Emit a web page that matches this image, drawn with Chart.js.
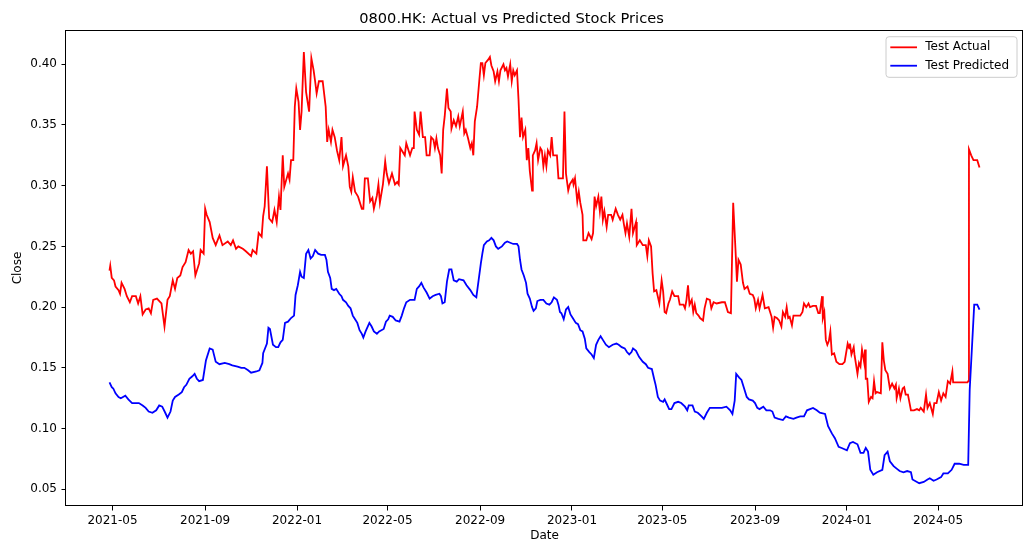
<!DOCTYPE html>
<html>
<head>
<meta charset="utf-8">
<script src="https://cdn.jsdelivr.net/npm/chart.js@4.4.1/dist/chart.umd.min.js"></script>
<style>
  html, body { margin: 0; padding: 0; background: #ffffff; }
  #wrap { width: 1024px; height: 543px; }
</style>
</head>
<body>
<div id="wrap"><canvas id="c" width="1024" height="543"></canvas></div>
<script>
const chartTitle = '0800.HK: Actual vs Predicted Stock Prices';
const xAxisTitle = 'Date';
const yAxisTitle = 'Close';
const seriesNames = ['Test Actual', 'Test Predicted'];
const xTickLabels = ['2021-05','2021-09','2022-01','2022-05','2022-09','2023-01','2023-05','2023-09','2024-01','2024-05'];
const yTicks = [0.05, 0.10, 0.15, 0.20, 0.25, 0.30, 0.35, 0.40];
const yRange = [0.0362, 0.4282];

const actualDates = [
'2021-04-27','2021-04-28','2021-04-30','2021-05-03','2021-05-05','2021-05-09','2021-05-11','2021-05-13','2021-05-17','2021-05-20',
'2021-05-24','2021-05-27','2021-06-01','2021-06-04','2021-06-07','2021-06-10','2021-06-14','2021-06-18','2021-06-21','2021-06-24',
'2021-06-29','2021-07-05','2021-07-09','2021-07-13','2021-07-16','2021-07-20','2021-07-23','2021-07-26','2021-07-30','2021-08-02',
'2021-08-06','2021-08-10','2021-08-13','2021-08-16','2021-08-19','2021-08-24','2021-08-26','2021-08-30','2021-09-01','2021-09-03',
'2021-09-07','2021-09-11','2021-09-15','2021-09-20','2021-09-24','2021-10-01','2021-10-05','2021-10-08','2021-10-12','2021-10-15',
'2021-10-21','2021-10-25','2021-11-01','2021-11-03','2021-11-08','2021-11-11','2021-11-15','2021-11-17','2021-11-19','2021-11-22',
'2021-11-25','2021-11-29','2021-12-02','2021-12-05','2021-12-08','2021-12-10','2021-12-13','2021-12-15','2021-12-20','2021-12-22',
'2021-12-24','2021-12-27','2021-12-29','2021-12-31','2022-01-03','2022-01-05','2022-01-07','2022-01-10','2022-01-13','2022-01-17',
'2022-01-20','2022-01-23','2022-01-25','2022-01-27','2022-01-30','2022-02-04','2022-02-08','2022-02-10','2022-02-12','2022-02-15',
'2022-02-17','2022-02-20','2022-02-23','2022-02-26','2022-03-01','2022-03-03','2022-03-07','2022-03-10','2022-03-12','2022-03-14',
'2022-03-16','2022-03-19','2022-03-23','2022-03-28','2022-03-30','2022-04-01','2022-04-05','2022-04-08','2022-04-11','2022-04-13',
'2022-04-17','2022-04-19','2022-04-21','2022-04-25','2022-04-28','2022-04-30','2022-05-03','2022-05-07','2022-05-11','2022-05-14',
'2022-05-16','2022-05-18','2022-05-24','2022-05-26','2022-05-31','2022-06-03','2022-06-05','2022-06-06','2022-06-09','2022-06-12',
'2022-06-14','2022-06-17','2022-06-20','2022-06-22','2022-06-26','2022-06-28','2022-07-01','2022-07-03','2022-07-05','2022-07-07',
'2022-07-10','2022-07-12','2022-07-14','2022-07-16','2022-07-19','2022-07-21','2022-07-24','2022-07-25','2022-07-28','2022-07-31',
'2022-08-03','2022-08-05','2022-08-09','2022-08-11','2022-08-13','2022-08-16','2022-08-19','2022-08-21','2022-08-23','2022-08-25',
'2022-08-28','2022-08-31','2022-09-02','2022-09-04','2022-09-06','2022-09-08','2022-09-12','2022-09-14','2022-09-16','2022-09-19',
'2022-09-21','2022-09-24','2022-09-26','2022-09-28','2022-10-02','2022-10-04','2022-10-06','2022-10-08','2022-10-11','2022-10-13',
'2022-10-15','2022-10-17','2022-10-20','2022-10-22','2022-10-24','2022-10-26','2022-10-28','2022-10-31','2022-11-02','2022-11-04',
'2022-11-06','2022-11-09','2022-11-10','2022-11-13','2022-11-15','2022-11-17','2022-11-20','2022-11-22','2022-11-24','2022-11-26',
'2022-11-28','2022-11-30','2022-12-03','2022-12-05','2022-12-07','2022-12-12','2022-12-14','2022-12-20','2022-12-22','2022-12-24',
'2022-12-27','2022-12-29','2023-01-02','2023-01-03','2023-01-05','2023-01-08','2023-01-10','2023-01-12','2023-01-15','2023-01-16',
'2023-01-20','2023-01-23','2023-01-27','2023-01-29','2023-01-31','2023-02-02','2023-02-05','2023-02-07','2023-02-09','2023-02-11',
'2023-02-13','2023-02-16','2023-02-18','2023-02-22','2023-02-24','2023-02-28','2023-03-03','2023-03-06','2023-03-09','2023-03-11',
'2023-03-13','2023-03-15','2023-03-18','2023-03-21','2023-03-23','2023-03-27','2023-03-28','2023-04-01','2023-04-05','2023-04-09',
'2023-04-11','2023-04-13','2023-04-16','2023-04-18','2023-04-20','2023-04-23','2023-04-27','2023-04-30','2023-05-02','2023-05-04',
'2023-05-06','2023-05-09','2023-05-11','2023-05-14','2023-05-17','2023-05-22','2023-05-24','2023-05-29','2023-05-31','2023-06-02',
'2023-06-04','2023-06-06','2023-06-09','2023-06-11','2023-06-13','2023-06-15','2023-06-18','2023-06-20','2023-06-24','2023-06-26',
'2023-06-29','2023-07-03','2023-07-05','2023-07-08','2023-07-12','2023-07-19','2023-07-23','2023-07-27','2023-07-31','2023-08-03',
'2023-08-06','2023-08-08','2023-08-10','2023-08-13','2023-08-16','2023-08-18','2023-08-22','2023-08-25','2023-08-29','2023-08-31',
'2023-09-02','2023-09-05','2023-09-07','2023-09-11','2023-09-14','2023-09-19','2023-09-23','2023-09-25','2023-09-27','2023-09-30',
'2023-10-03','2023-10-06','2023-10-08','2023-10-11','2023-10-13','2023-10-15','2023-10-17','2023-10-20','2023-10-22','2023-10-26',
'2023-10-31','2023-11-03','2023-11-05','2023-11-08','2023-11-11','2023-11-13','2023-11-17','2023-11-21','2023-11-24','2023-11-26',
'2023-11-29','2023-11-30','2023-12-02','2023-12-04','2023-12-06','2023-12-08','2023-12-10','2023-12-12','2023-12-15','2023-12-18',
'2023-12-22','2023-12-26','2023-12-29','2024-01-02','2024-01-04','2024-01-05','2024-01-07','2024-01-10','2024-01-11','2024-01-15',
'2024-01-17','2024-01-19','2024-01-21','2024-01-24','2024-01-25','2024-01-26','2024-01-28','2024-01-30','2024-02-02','2024-02-04',
'2024-02-06','2024-02-08','2024-02-10','2024-02-15','2024-02-17','2024-02-19','2024-02-21','2024-02-24','2024-02-27','2024-03-01',
'2024-03-04','2024-03-06','2024-03-07','2024-03-10','2024-03-12','2024-03-15','2024-03-17','2024-03-19','2024-03-22','2024-03-26',
'2024-03-30','2024-04-03','2024-04-06','2024-04-08','2024-04-12','2024-04-15','2024-04-17','2024-04-20','2024-04-24','2024-04-26',
'2024-04-29','2024-05-02','2024-05-05','2024-05-08','2024-05-11','2024-05-14','2024-05-17','2024-05-20','2024-05-21','2024-06-09',
'2024-06-10','2024-06-11','2024-06-14','2024-06-17','2024-06-22','2024-06-25'
];
const actualValues = [
0.230,0.234,0.224,0.222,0.217,0.214,0.211,0.220,0.215,0.209,
0.204,0.209,0.209,0.203,0.209,0.194,0.198,0.199,0.195,0.206,
0.207,0.203,0.184,0.206,0.209,0.222,0.215,0.224,0.226,0.233,
0.237,0.247,0.244,0.246,0.226,0.236,0.247,0.244,0.281,0.276,
0.270,0.257,0.251,0.259,0.251,0.254,0.251,0.255,0.248,0.250,
0.248,0.246,0.242,0.247,0.244,0.261,0.258,0.275,0.283,0.316,
0.273,0.270,0.280,0.270,0.291,0.280,0.325,0.299,0.310,0.305,
0.321,0.321,0.365,0.380,0.369,0.346,0.361,0.410,0.377,0.361,
0.405,0.395,0.386,0.376,0.386,0.386,0.365,0.336,0.346,0.336,
0.346,0.340,0.329,0.321,0.340,0.316,0.325,0.316,0.299,0.295,
0.307,0.295,0.291,0.281,0.281,0.306,0.306,0.287,0.290,0.281,
0.292,0.301,0.286,0.301,0.320,0.310,0.302,0.310,0.301,0.303,
0.301,0.331,0.325,0.335,0.325,0.331,0.331,0.361,0.346,0.342,
0.361,0.340,0.340,0.325,0.325,0.340,0.338,0.331,0.339,0.331,
0.325,0.310,0.346,0.357,0.380,0.364,0.361,0.347,0.354,0.349,
0.357,0.349,0.361,0.343,0.346,0.339,0.331,0.335,0.325,0.353,
0.365,0.387,0.401,0.401,0.391,0.401,0.404,0.406,0.399,0.394,
0.386,0.394,0.386,0.395,0.400,0.395,0.397,0.390,0.400,0.386,
0.395,0.391,0.395,0.371,0.340,0.356,0.340,0.346,0.321,0.331,
0.312,0.296,0.325,0.329,0.335,0.321,0.331,0.329,0.316,0.325,
0.316,0.329,0.325,0.340,0.325,0.325,0.306,0.306,0.361,0.310,
0.296,0.301,0.305,0.301,0.306,0.287,0.295,0.286,0.276,0.255,
0.255,0.261,0.256,0.261,0.291,0.283,0.291,0.279,0.291,0.272,
0.279,0.266,0.276,0.276,0.272,0.281,0.276,0.272,0.276,0.268,
0.261,0.269,0.258,0.281,0.261,0.270,0.251,0.255,0.251,0.251,
0.242,0.255,0.250,0.228,0.213,0.214,0.203,0.222,0.213,0.196,
0.195,0.203,0.206,0.213,0.209,0.209,0.202,0.202,0.199,0.206,
0.218,0.202,0.206,0.196,0.202,0.195,0.193,0.191,0.189,0.199,
0.207,0.206,0.199,0.204,0.203,0.204,0.204,0.196,0.195,0.286,
0.248,0.221,0.239,0.235,0.220,0.215,0.217,0.211,0.210,0.207,
0.199,0.206,0.199,0.210,0.199,0.200,0.192,0.183,0.192,0.191,
0.189,0.184,0.196,0.192,0.200,0.191,0.192,0.185,0.193,0.193,
0.193,0.196,0.203,0.200,0.203,0.200,0.201,0.201,0.195,0.195,
0.209,0.191,0.196,0.173,0.169,0.172,0.180,0.161,0.162,0.155,
0.153,0.153,0.155,0.170,0.166,0.170,0.161,0.167,0.161,0.145,
0.154,0.151,0.165,0.154,0.165,0.141,0.141,0.122,0.126,0.125,
0.139,0.129,0.130,0.129,0.171,0.156,0.148,0.145,0.133,0.137,
0.133,0.136,0.125,0.133,0.125,0.133,0.134,0.128,0.128,0.115,
0.115,0.116,0.115,0.117,0.114,0.128,0.117,0.121,0.112,0.121,
0.121,0.130,0.123,0.129,0.126,0.139,0.137,0.147,0.138,0.138,
0.139,0.330,0.325,0.321,0.321,0.315
];

const predictedDates = [
'2021-04-27','2021-04-30','2021-05-02','2021-05-05','2021-05-09','2021-05-12','2021-05-18','2021-05-22','2021-05-27','2021-06-01',
'2021-06-05','2021-06-10','2021-06-14','2021-06-18','2021-06-23','2021-06-28','2021-07-02','2021-07-06','2021-07-10','2021-07-13',
'2021-07-17','2021-07-20','2021-07-23','2021-07-28','2021-08-01','2021-08-04','2021-08-07','2021-08-11','2021-08-15','2021-08-18',
'2021-08-21','2021-08-24','2021-08-29','2021-09-02','2021-09-07','2021-09-11','2021-09-15','2021-09-20','2021-09-27','2021-10-03',
'2021-10-07','2021-10-14','2021-10-19','2021-10-23','2021-10-28','2021-11-01','2021-11-08','2021-11-12','2021-11-16','2021-11-17',
'2021-11-22','2021-11-24','2021-11-26','2021-11-30','2021-12-04','2021-12-07','2021-12-10','2021-12-13','2021-12-16','2021-12-20',
'2021-12-24','2021-12-28','2021-12-30','2022-01-02','2022-01-05','2022-01-07','2022-01-10','2022-01-13','2022-01-16','2022-01-19',
'2022-01-22','2022-01-25','2022-01-29','2022-02-02','2022-02-07','2022-02-09','2022-02-11','2022-02-14','2022-02-16','2022-02-19',
'2022-02-22','2022-02-26','2022-03-01','2022-03-03','2022-03-07','2022-03-10','2022-03-13','2022-03-16','2022-03-19','2022-03-22',
'2022-03-25','2022-03-28','2022-03-30','2022-04-02','2022-04-07','2022-04-10','2022-04-13','2022-04-17','2022-04-20','2022-04-23',
'2022-04-26','2022-04-29','2022-05-02','2022-05-04','2022-05-08','2022-05-12','2022-05-17','2022-05-20','2022-05-23','2022-05-26',
'2022-05-31','2022-06-03','2022-06-06','2022-06-09','2022-06-12','2022-06-15','2022-06-18','2022-06-22','2022-06-26','2022-06-30',
'2022-07-04','2022-07-09','2022-07-11','2022-07-13','2022-07-16','2022-07-19','2022-07-22','2022-07-25','2022-07-28','2022-08-01',
'2022-08-04','2022-08-10','2022-08-14','2022-08-19','2022-08-23','2022-08-27','2022-08-30','2022-09-02','2022-09-04','2022-09-06',
'2022-09-10','2022-09-13','2022-09-16','2022-09-19','2022-09-22','2022-09-25','2022-09-30','2022-10-04','2022-10-07','2022-10-11',
'2022-10-15','2022-10-20','2022-10-22','2022-10-24','2022-10-26','2022-10-29','2022-11-01','2022-11-03','2022-11-06','2022-11-09',
'2022-11-11','2022-11-14','2022-11-16','2022-11-20','2022-11-24','2022-11-28','2022-12-02','2022-12-05','2022-12-08','2022-12-12',
'2022-12-14','2022-12-16','2022-12-18','2022-12-21','2022-12-24','2022-12-27','2022-12-30','2023-01-02','2023-01-06','2023-01-09',
'2023-01-12','2023-01-15','2023-01-18','2023-01-20','2023-01-24','2023-01-27','2023-01-30','2023-02-02','2023-02-05','2023-02-08',
'2023-02-11','2023-02-15','2023-02-19','2023-02-24','2023-03-01','2023-03-04','2023-03-08','2023-03-12','2023-03-15','2023-03-18',
'2023-03-21','2023-03-23','2023-03-27','2023-03-31','2023-04-05','2023-04-09','2023-04-12','2023-04-17','2023-04-20','2023-04-22',
'2023-04-25','2023-04-28','2023-05-02','2023-05-04','2023-05-07','2023-05-10','2023-05-13','2023-05-17','2023-05-22','2023-05-26',
'2023-05-31','2023-06-03','2023-06-05','2023-06-10','2023-06-13','2023-06-17','2023-06-22','2023-06-25','2023-06-29','2023-07-03',
'2023-07-07','2023-07-12','2023-07-19','2023-07-25','2023-07-30','2023-08-02','2023-08-05','2023-08-07','2023-08-11','2023-08-14',
'2023-08-17','2023-08-21','2023-08-24','2023-08-29','2023-09-01','2023-09-04','2023-09-07','2023-09-12','2023-09-16','2023-09-21',
'2023-09-24','2023-09-27','2023-10-02','2023-10-08','2023-10-12','2023-10-16','2023-10-22','2023-10-26','2023-10-31','2023-11-05',
'2023-11-09','2023-11-13','2023-11-17','2023-11-22','2023-11-26','2023-12-03','2023-12-07','2023-12-12','2023-12-16','2023-12-21',
'2023-12-25','2024-01-01','2024-01-05','2024-01-09','2024-01-15','2024-01-19','2024-01-23','2024-01-26','2024-01-29','2024-02-01',
'2024-02-05','2024-02-10','2024-02-17','2024-02-20','2024-02-24','2024-02-27','2024-03-03','2024-03-07','2024-03-11','2024-03-16',
'2024-03-21','2024-03-26','2024-03-28','2024-04-03','2024-04-06','2024-04-12','2024-04-17','2024-04-20','2024-04-25','2024-04-29',
'2024-05-05','2024-05-08','2024-05-14','2024-05-19','2024-05-23','2024-05-29','2024-06-04','2024-06-10','2024-06-12','2024-06-15',
'2024-06-18','2024-06-22','2024-06-25'
];
const predictedValues = [
0.138,0.134,0.133,0.129,0.126,0.125,0.127,0.124,0.121,0.121,
0.121,0.119,0.117,0.114,0.113,0.115,0.119,0.118,0.113,0.109,
0.114,0.123,0.126,0.128,0.130,0.134,0.136,0.141,0.143,0.145,
0.141,0.139,0.140,0.156,0.166,0.165,0.155,0.153,0.154,0.153,
0.152,0.151,0.150,0.150,0.148,0.146,0.147,0.148,0.154,0.162,
0.170,0.183,0.182,0.169,0.167,0.167,0.171,0.173,0.187,0.188,
0.191,0.193,0.210,0.218,0.229,0.225,0.224,0.244,0.247,0.240,
0.242,0.247,0.244,0.243,0.243,0.239,0.229,0.224,0.215,0.214,
0.215,0.211,0.209,0.206,0.204,0.201,0.199,0.193,0.190,0.187,
0.181,0.178,0.175,0.180,0.187,0.184,0.180,0.178,0.180,0.181,
0.182,0.188,0.190,0.193,0.192,0.189,0.188,0.193,0.199,0.204,
0.206,0.206,0.206,0.215,0.217,0.220,0.216,0.212,0.207,0.209,
0.210,0.211,0.209,0.203,0.204,0.221,0.231,0.231,0.222,0.221,
0.223,0.222,0.218,0.214,0.210,0.208,0.222,0.236,0.244,0.251,
0.254,0.255,0.257,0.255,0.250,0.248,0.250,0.253,0.254,0.253,
0.252,0.252,0.250,0.239,0.231,0.226,0.220,0.211,0.207,0.200,
0.197,0.199,0.205,0.206,0.206,0.203,0.202,0.204,0.208,0.206,
0.202,0.196,0.195,0.190,0.198,0.200,0.194,0.191,0.187,0.186,
0.181,0.180,0.174,0.166,0.163,0.161,0.158,0.169,0.173,0.176,
0.173,0.169,0.167,0.169,0.170,0.169,0.167,0.166,0.163,0.161,
0.163,0.166,0.164,0.159,0.155,0.153,0.150,0.149,0.141,0.136,
0.126,0.123,0.122,0.124,0.120,0.116,0.116,0.121,0.122,0.121,
0.118,0.115,0.119,0.119,0.114,0.113,0.110,0.108,0.113,0.117,
0.117,0.117,0.117,0.118,0.115,0.112,0.123,0.145,0.142,0.140,
0.134,0.126,0.124,0.123,0.121,0.117,0.116,0.118,0.115,0.115,
0.114,0.109,0.108,0.107,0.110,0.109,0.108,0.109,0.110,0.110,
0.115,0.116,0.117,0.115,0.113,0.112,0.102,0.096,0.092,0.085,
0.084,0.082,0.088,0.089,0.087,0.080,0.080,0.084,0.081,0.066,
0.062,0.064,0.066,0.078,0.081,0.073,0.069,0.067,0.065,0.064,
0.065,0.064,0.058,0.056,0.055,0.056,0.058,0.059,0.057,0.058,
0.060,0.063,0.063,0.066,0.071,0.071,0.070,0.070,0.132,0.167,
0.202,0.202,0.198
];

const seriesColors = ['#ff0000', '#0000ff'];

function toDay(s) {
  const p = s.split('-').map(Number);
  return Date.UTC(p[0], p[1] - 1, p[2] || 1) / 86400000;
}
const xTickValues = xTickLabels.map(toDay);

const actualPoints = actualDates.map((d, i) => ({ x: toDay(d), y: actualValues[i] }));
const predictedPoints = predictedDates.map((d, i) => ({ x: toDay(d), y: predictedValues[i] }));

const allX = actualPoints.concat(predictedPoints).map(p => p.x);
const xLo = Math.min.apply(null, allX), xHi = Math.max.apply(null, allX);
const xPad = (xHi - xLo) * 0.05;

const FONT = 'DejaVu Sans';
Chart.defaults.font.family = FONT;
Chart.defaults.color = '#000000';

const framePlugin = {
  id: 'frameAndLegend',
  afterDatasetsDraw(chart) {
    const { ctx, chartArea: a } = chart;
    ctx.save();
    ctx.strokeStyle = '#000000';
    ctx.lineWidth = 1;
    ctx.strokeRect(Math.round(a.left) - 0.5, Math.round(a.top) + 0.5,
                   Math.round(a.right) - Math.round(a.left) + 0, Math.round(a.bottom) - Math.round(a.top) - 1);
    // legend
    const bw = 131, bh = 40.6;
    const bx = a.right - 6 - bw, by = a.top + 6.7;
    const r = 3;
    ctx.beginPath();
    ctx.moveTo(bx + r, by);
    ctx.lineTo(bx + bw - r, by);
    ctx.arcTo(bx + bw, by, bx + bw, by + r, r);
    ctx.lineTo(bx + bw, by + bh - r);
    ctx.arcTo(bx + bw, by + bh, bx + bw - r, by + bh, r);
    ctx.lineTo(bx + r, by + bh);
    ctx.arcTo(bx, by + bh, bx, by + bh - r, r);
    ctx.lineTo(bx, by + r);
    ctx.arcTo(bx, by, bx + r, by, r);
    ctx.closePath();
    ctx.fillStyle = 'rgba(255,255,255,0.8)';
    ctx.fill();
    ctx.strokeStyle = '#cccccc';
    ctx.lineWidth = 1;
    ctx.stroke();
    const rows = [by + 10.6, by + 29.0];
    chart.data.datasets.forEach((ds, i) => {
      const y = rows[i];
      ctx.beginPath();
      ctx.strokeStyle = ds.borderColor;
      ctx.lineWidth = 1.8;
      ctx.moveTo(bx + 4.3, y);
      ctx.lineTo(bx + 31, y);
      ctx.stroke();
      ctx.fillStyle = '#000000';
      ctx.font = '12px "' + FONT + '"';
      ctx.textBaseline = 'middle';
      ctx.textAlign = 'left';
      ctx.fillText(ds.label, bx + 39.3, y);
    });
    ctx.restore();
  }
};

new Chart(document.getElementById('c'), {
  type: 'line',
  data: {
    datasets: [
      { label: seriesNames[0], data: actualPoints, borderColor: seriesColors[0], backgroundColor: seriesColors[0],
        borderWidth: 1.8, pointRadius: 0, tension: 0, fill: false, order: 2 },
      { label: seriesNames[1], data: predictedPoints, borderColor: seriesColors[1], backgroundColor: seriesColors[1],
        borderWidth: 1.8, pointRadius: 0, tension: 0, fill: false, order: 1 }
    ]
  },
  options: {
    responsive: false,
    animation: false,
    devicePixelRatio: 1,
    layout: { padding: { left: 0, right: 1, top: 0, bottom: 0 } },
    plugins: {
      legend: { display: false },
      tooltip: { enabled: false },
      title: {
        display: true, text: chartTitle, color: '#000000',
        font: { family: FONT, size: 14.6, weight: 'normal' },
        padding: { top: 10.5, bottom: 2 }
      }
    },
    scales: {
      x: {
        type: 'linear',
        min: xLo - xPad, max: xHi + xPad,
        afterBuildTicks: (scale) => { scale.ticks = xTickValues.map(v => ({ value: v })); },
        afterFit: (scale) => { scale.height = 37; },
        ticks: {
          autoSkip: false, maxRotation: 0, padding: 3,
          font: { family: FONT, size: 12 }, color: '#000000',
          callback: (v) => { const i = xTickValues.indexOf(v); return i >= 0 ? xTickLabels[i] : ''; }
        },
        grid: { display: true, drawOnChartArea: false, drawTicks: true, tickLength: 4.5, color: '#000000', lineWidth: 1 },
        border: { display: false },
        title: { display: true, text: xAxisTitle, color: '#000000', font: { family: FONT, size: 12 }, padding: { top: 0, bottom: 0 } }
      },
      y: {
        type: 'linear',
        min: yRange[0], max: yRange[1],
        afterBuildTicks: (scale) => { scale.ticks = yTicks.map(v => ({ value: v })); },
        afterFit: (scale) => { scale.width = 66; },
        ticks: {
          autoSkip: false, padding: 4.5,
          font: { family: FONT, size: 12 }, color: '#000000',
          callback: (v) => Number(v).toFixed(2)
        },
        grid: { display: true, drawOnChartArea: false, drawTicks: true, tickLength: 4.5, color: '#000000', lineWidth: 1 },
        border: { display: false },
        title: { display: true, text: yAxisTitle, color: '#000000', font: { family: FONT, size: 12 }, padding: { top: 10.5, bottom: 0 } }
      }
    }
  },
  plugins: [framePlugin]
});
</script>
</body>
</html>
